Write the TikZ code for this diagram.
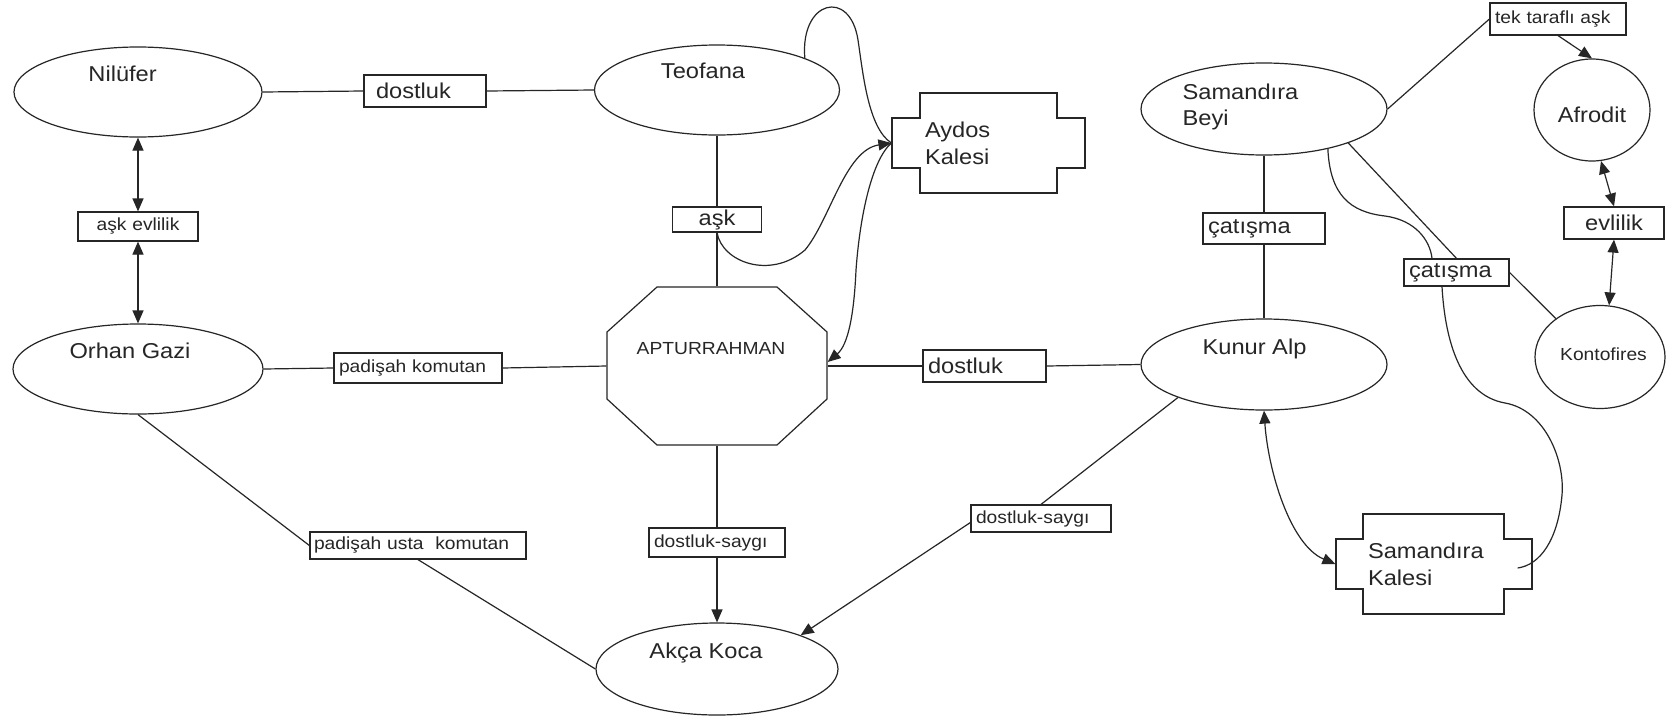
\documentclass[tikz,border=0pt]{standalone}
\usepackage{fontspec}
\setmainfont{Liberation Sans}[FakeStretch=1.1]
\usetikzlibrary{shapes.geometric,arrows.meta}
\definecolor{ink}{HTML}{262626}
\newcommand\FBig{\fontsize{21.5}{26}\selectfont}
\newcommand\FSmall{\fontsize{17.5}{21}\selectfont}
\newcommand\FCastle{\fontsize{21.5}{27}\selectfont}
\begin{document}
\begin{tikzpicture}[x=1pt,y=-1pt,line width=1.2pt,color=ink,
  ell/.style={draw,ellipse,fill=white,inner sep=0pt},
  big/.style={font=\FBig,anchor=base,inner sep=0pt},
  sml/.style={font=\FSmall,anchor=base,inner sep=0pt},
  box/.style={draw,rectangle,fill=white,inner ysep=0pt,align=left},
  cbox/.style={draw,rectangle,fill=white,inner ysep=0pt,align=center},
  castle/.style={rectangle,inner ysep=0pt,align=left,font=\FCastle},
  tip/.tip={Triangle[length=13pt,width=11pt]},
  arr/.style={-tip},
  darr/.style={tip-tip}]
\fill[white] (0,0) rectangle (1677,718);
\useasboundingbox (0,0) rectangle (1677,718);

% shapes drawn directly
\draw[fill=white] (657,287) -- (777,287) -- (827,332) -- (827,399) -- (777,445) -- (657,445) -- (607,399) -- (607,332) -- cycle;
\draw[fill=white] (920,93) -- (1057,93) -- (1057,118) -- (1085,118) -- (1085,168) -- (1057,168) -- (1057,193) -- (920,193) -- (920,168) -- (892,168) -- (892,118) -- (920,118) -- cycle;
\draw[fill=white] (1363,514) -- (1504,514) -- (1504,539) -- (1532,539) -- (1532,589) -- (1504,589) -- (1504,614) -- (1363,614) -- (1363,589) -- (1336,589) -- (1336,539) -- (1363,539) -- cycle;

% ellipses
\node[ell,minimum width=248pt,minimum height=90pt] (nil) at (138,92) {};
\node[ell,minimum width=245pt,minimum height=90pt] (teo) at (717,90) {};
\node[ell,minimum width=250pt,minimum height=90pt] (orhan) at (138,369) {};
\node[ell,minimum width=242pt,minimum height=92pt] (akca) at (717,669) {};
\node[ell,minimum width=246pt,minimum height=92pt] (sb) at (1264,109) {};
\node[ell,minimum width=246pt,minimum height=91pt] (ka) at (1264,364.5) {};
\node[ell,minimum width=116pt,minimum height=102pt] (afro) at (1592,110) {};
\node[ell,minimum width=130pt,minimum height=103pt] (konto) at (1600,357) {};

% ellipse texts
\node[big] (nilT) at (122.6,81) {Nilüfer};
\node[big] (teoT) at (703,78) {Teofana};
\node[big] (orhanT) at (130,358) {Orhan Gazi};
\node[big] (akcaT) at (706,658) {Akça Koca};
\node[big,anchor=base west] (sbT1) at (1182,99) {Samandıra};
\node[big,anchor=base west] (sbT2) at (1182,125) {Beyi};
\node[big] (kaT) at (1254.5,354) {Kunur Alp};
\node[big] (afroT) at (1592,122) {Afrodit};
\node[sml] (kontoT) at (1603.5,360) {Kontofires};

% octagon node
\node[rectangle,minimum width=220pt,minimum height=158pt,inner sep=0pt] (apt) at (717,366) {};
\node[sml] (aptT) at (711,354) {APTURRAHMAN};

% castles
\node[castle,minimum width=193pt,minimum height=50pt,inner xsep=33pt,text width=127pt] (aydos) at (988.5,143) {Aydos\\Kalesi};
\node[castle,minimum width=196pt,minimum height=50pt,inner xsep=32pt,text width=132pt] (samk) at (1434,564) {Samandıra\\Kalesi};

% label boxes
\node[box,font=\FBig,minimum height=32pt,inner xsep=12pt,text width=98pt] (dost1) at (425,91) {\mbox{dostluk}};
\node[cbox,font=\FSmall,minimum height=29pt,inner xsep=4pt,text width=112pt] (askev) at (138,226.5) {\mbox{aşk evlilik}};
\node[cbox,font=\FBig,minimum height=25pt,inner xsep=4pt,text width=81pt] (ask) at (717,219.5) {\mbox{aşk}};
\node[box,font=\FSmall,minimum height=30pt,inner xsep=5pt,text width=158pt] (padk) at (418,368) {\mbox{padişah komutan}};
\node[box,font=\FSmall,minimum height=27pt,inner xsep=4pt,text width=208pt] (pusk) at (418,545.5) {\mbox{padişah usta\ \ komutan}};
\node[box,font=\FBig,minimum height=32pt,inner xsep=5pt,text width=113pt] (dost2) at (984.5,366) {\mbox{dostluk}};
\node[box,font=\FSmall,minimum height=29pt,inner xsep=5pt,text width=126pt] (ds1) at (717,542.5) {\mbox{dostluk-saygı}};
\node[box,font=\FSmall,minimum height=27pt,inner xsep=5pt,text width=130pt] (ds2) at (1041,518.5) {\mbox{dostluk-saygı}};
\node[box,font=\FBig,minimum height=31pt,inner xsep=5pt,text width=112pt] (cat1) at (1264,228.5) {\mbox{çatışma}};
\node[box,font=\FBig,minimum height=27pt,inner xsep=5pt,text width=95pt] (cat2) at (1456.5,272.5) {\mbox{çatışma}};
\node[box,font=\FSmall,minimum height=32pt,inner xsep=5pt,text width=126pt] (tek) at (1558,19) {\mbox{tek taraflı aşk}};
\node[cbox,font=\FBig,minimum height=32pt,inner xsep=4pt,text width=92pt] (evl) at (1614,223) {\mbox{evlilik}};

% connectors
\draw (nil.east) -- (dost1.west);
\draw (dost1.east) -- (teo.west);
\draw[darr] (nil.south) -- (askev.north);
\draw[darr] (askev.south) -- (orhan.north);
\draw (teo.south) -- (ask.north);
\draw (ask.south) -- (apt.north);
\draw (apt.south) -- (ds1.north);
\draw[arr] (ds1.south) -- (akca.north);
\draw (teo.20) .. controls (800,0) and (850,-12) .. (858,40) .. controls (863,73) and (868,128) .. (aydos.west);
\draw[arr] (ask.south) .. controls (722,262) and (770,280) .. (805,250) .. controls (830,220) and (845,150) .. (aydos.west);
\draw[arr] (aydos.west) .. controls (872,160) and (860,215) .. (856,270) .. controls (854,315) and (848,345) .. ([yshift=4pt]apt.east);
\draw (orhan.east) -- (padk.west);
\draw (padk.east) -- (apt.west);
\draw (apt.east) -- (dost2.west);
\draw (dost2.east) -- (ka.west);
\draw (ka.201) -- (ds2.north);
\draw[arr] ([yshift=-4pt]ds2.west) -- (akca.22);
\draw (orhan.south) -- (pusk.west);
\draw (pusk.south) -- (akca.west);
\draw (sb.south) -- (cat1.north);
\draw (cat1.south) -- (ka.north);
\draw (sb.east) -- (tek.west);
\draw[arr] (tek.south) -- (afro.north);
\draw[darr] (afro.-80) -- (evl.north);
\draw[darr] (evl.south) -- (konto.80);
\draw (sb.-22) -- (cat2.north);
\draw (cat2.east) -- (konto.139);
\draw (sb.-32) .. controls (1330,195) and (1350,212) .. (1385,216) .. controls (1415,220) and (1430,240) .. ([xshift=-24.5pt]cat2.north);
\draw ([xshift=-14.5pt]cat2.south) .. controls (1445,340) and (1460,395) .. (1505,403) .. controls (1545,410) and (1565,460) .. (1562,495) .. controls (1558,540) and (1540,565) .. ([xshift=-15pt,yshift=-4pt]samk.east);
\draw[darr] (ka.south) .. controls (1268,470) and (1290,545) .. (samk.west);
\end{tikzpicture}
\end{document}
